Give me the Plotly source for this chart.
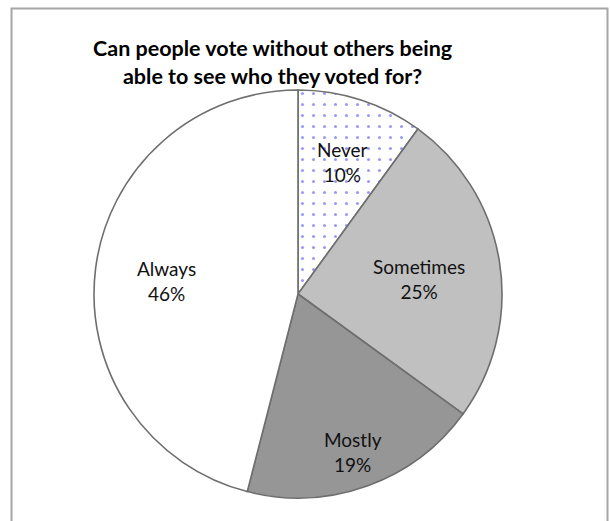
import math
import plotly.graph_objects as go

# Survey answers and their shares (%)
labels = ["Never", "Sometimes", "Mostly", "Always"]
values = [10, 25, 19, 46]
colors = ["#ffffff", "#c0c0c0", "#969696", "#ffffff"]
patterns = [".", "", "", ""]
# how far out along each slice's bisector its label sits (fraction of radius)
label_radius = [0.70, 0.60, 0.80, 0.65]

title_lines = ["Can people vote without others being", "able to see who they voted for?"]

W, H = 610, 521
cx, cy, R = 298, 294, 204  # pie centre and radius in pixels
dom_x = [(cx - R) / W, (cx + R) / W]
dom_y = [(H - cy - R) / H, (H - cy + R) / H]

fig = go.Figure(
    go.Pie(
        labels=labels,
        values=values,
        sort=False,
        direction="clockwise",
        rotation=0,
        marker=dict(
            colors=colors,
            line=dict(color="#6e6e6e", width=1.6),
            pattern=dict(
                shape=patterns,
                fgcolor="#9a9af6",
                bgcolor="#ffffff",
                size=11,
                solidity=0.06,
            ),
        ),
        textinfo="none",
        domain=dict(x=dom_x, y=dom_y),
        showlegend=False,
        hoverinfo="label+percent",
    )
)

# Slice labels placed on each slice's bisector
total = sum(values)
start = 0.0
for lab, v, rf in zip(labels, values, label_radius):
    mid = (start + v / 2) / total * 2 * math.pi
    start += v
    px = cx + rf * R * math.sin(mid)
    py = cy - rf * R * math.cos(mid) + 4
    fig.add_annotation(
        text=f"{lab}<br>{round(v / total * 100)}%",
        xref="paper", yref="paper", x=px / W, y=(H - py) / H,
        xanchor="center", yanchor="middle", showarrow=False,
        font=dict(family="Lato, Open Sans, sans-serif", size=19, color="#111111"),
    )

# Chart frame
fig.add_shape(
    type="rect", xref="paper", yref="paper",
    x0=11.5 / W, x1=607.5 / W, y0=-0.05, y1=(H - 8.5) / H,
    line=dict(color="#a6a6a6", width=2), fillcolor="rgba(0,0,0,0)",
)

fig.add_annotation(
    text="<b>" + "<br>".join(title_lines) + "</b>",
    xref="paper", yref="paper", x=272 / W, y=(H - 62) / H,
    xanchor="center", yanchor="middle", showarrow=False,
    font=dict(family="Lato, Open Sans, sans-serif", size=21.5, color="#000000"),
)

fig.update_layout(
    width=W, height=H,
    margin=dict(l=0, r=0, t=0, b=0),
    paper_bgcolor="#ffffff",
    plot_bgcolor="#ffffff",
)

fig.write_html("out.html")
